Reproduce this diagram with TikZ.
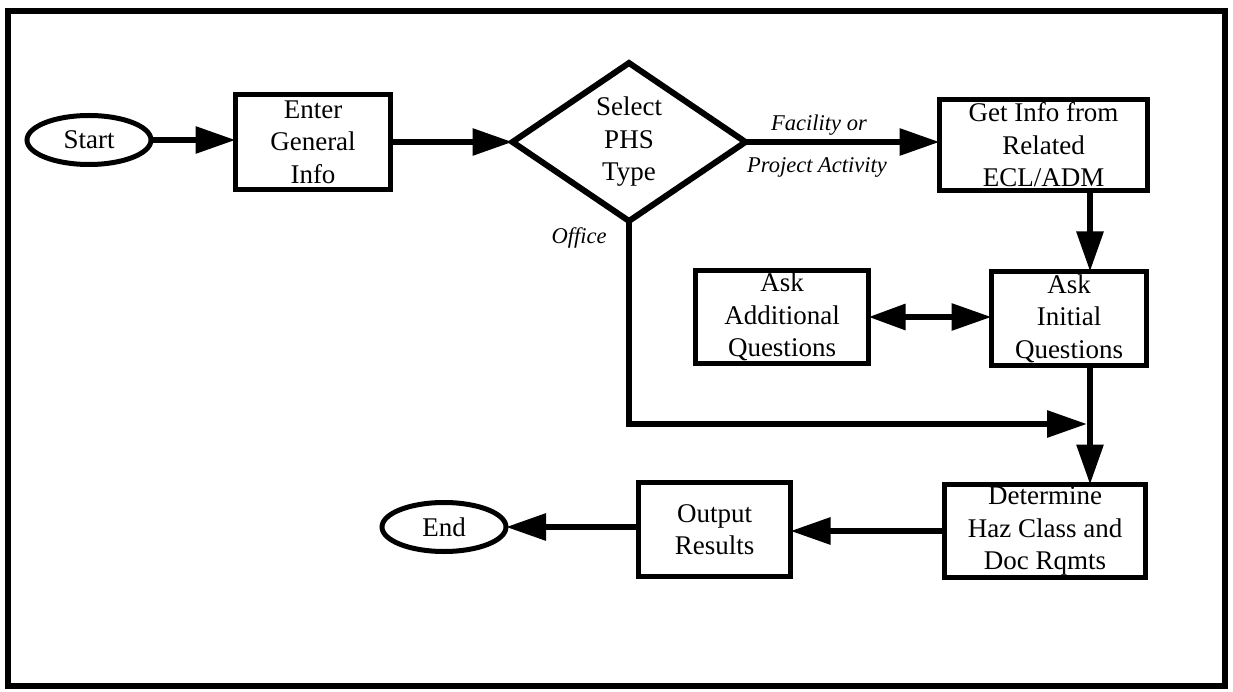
\documentclass[tikz,border=0pt]{standalone}
\usepackage{fontspec}
\setmainfont{Liberation Serif}
\usetikzlibrary{shapes.geometric,arrows.meta}
\begin{document}
\begin{tikzpicture}[x=1pt,y=-1pt,
  every node/.style={font=\fontsize{27}{32.5}\selectfont, align=center, inner sep=0pt, outer sep=0pt},
  proc/.style={draw, line width=5pt, rectangle},
  term/.style={draw, line width=5pt, ellipse},
  decide/.style={draw, line width=6pt, diamond, aspect=1.47},
  lbl/.style={font=\fontsize{22.5}{24}\selectfont\itshape},
  flow/.style={line width=6pt, -{Triangle[length=40pt,width=26pt]}},
  biflow/.style={line width=6pt, {Triangle[length=37pt,width=25pt]}-{Triangle[length=40pt,width=26pt]}},
  plain/.style={line width=6pt},
  framestyle/.style={line width=6pt}
]
\useasboundingbox (0,0) rectangle (1233,692);
\draw[framestyle] (8,11) rectangle (1225,686);

\node[term, minimum width=124pt, minimum height=49pt] (start) at (89,140) {Start};
\node[proc, minimum width=155pt, minimum height=95pt] (enter) at (313,142) {Enter\\General\\Info};
\node[decide, minimum width=233pt, minimum height=158pt] (sel) at (629,142) {Select\\PHS\\Type};
\node[proc, minimum width=208pt, minimum height=91pt] (get) at (1043.5,145) {Get Info from\\Related\\ECL/ADM};
\node[proc, minimum width=173pt, minimum height=93pt] (add) at (782,317) {Ask\\Additional\\Questions};
\node[proc, minimum width=155pt, minimum height=94pt] (ini) at (1069,318.5) {Ask\\Initial\\Questions};
\node[proc, minimum width=201pt, minimum height=93pt] (det) at (1045,531) {Determine\\Haz Class and\\Doc Rqmts};
\node[proc, minimum width=152pt, minimum height=94pt] (out) at (714.5,529.5) {Output\\Results};
\node[term, minimum width=124pt, minimum height=49pt] (end) at (444,527) {End};

\node[lbl] (fac) at (819,125) {Facility or};
\node[lbl] (proj) at (817,167) {Project Activity};
\node[lbl] (off) at (579,238) {Office};

\coordinate (col) at (1090,0);
\coordinate (join) at (1090,424);

\draw[flow] (start.east) -- (start.east -| enter.west);
\draw[flow] (enter.east |- sel.west) -- (sel.west);
\draw[flow] (sel.east) -- (sel.east -| get.west);
\draw[flow] (get.south -| col) -- (ini.north -| col);
\draw[biflow] (add.east) -- (add.east -| ini.west);
\draw[plain] (ini.south -| col) -- (join);
\draw[flow] (join) -- (det.north -| col);
\draw[flow, shorten >=3pt] (sel.south) -- (sel.south |- join) -- (join);
\draw[flow] (det.west) -- (det.west -| out.east);
\draw[flow] (end.east -| out.west) -- (end.east);
\end{tikzpicture}
\end{document}
